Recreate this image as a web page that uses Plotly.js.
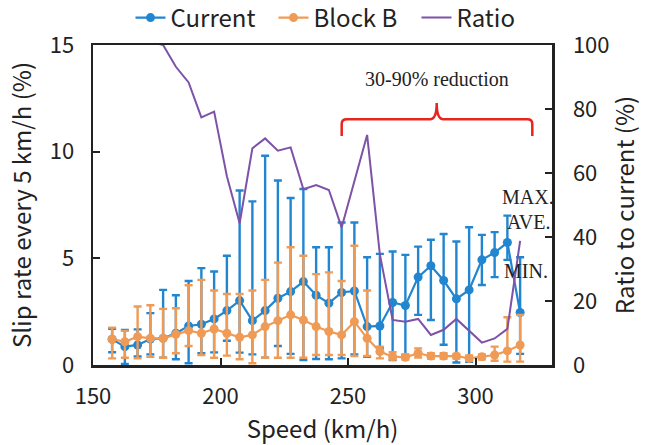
<!DOCTYPE html>
<html>
<head>
<meta charset="utf-8">
<script src="https://cdn.plot.ly/plotly-3.0.1.min.js"></script>
<style>html,body{margin:0;padding:0;background:#fff;}#chart{width:645px;height:445px;}</style>
</head>
<body>
<div id="chart"></div>
<script>
// Speed categories (km/h)
const speed = [157.5,162.5,167.5,172.5,177.5,182.5,187.5,192.5,197.5,202.5,207.5,212.5,217.5,222.5,227.5,232.5,237.5,242.5,247.5,252.5,257.5,262.5,267.5,272.5,277.5,282.5,287.5,292.5,297.5,302.5,307.5,312.5,317.5];

// Current: average / max / min slip rate (%)
const currentAve = [1.20,0.86,0.94,1.22,1.25,1.49,1.83,1.91,2.16,2.55,3.02,2.08,2.55,3.13,3.44,3.91,3.27,2.90,3.40,3.47,1.80,1.83,2.93,2.79,4.12,4.65,3.96,3.10,3.52,4.93,5.27,5.74,2.46];
const currentMax = [1.70,1.64,1.67,2.43,3.52,3.27,3.94,4.54,4.38,5.12,8.18,7.67,9.81,8.65,7.83,8.25,5.52,5.52,6.68,6.68,5.05,5.21,5.32,5.16,5.55,5.87,6.14,5.79,6.46,6.10,6.23,7.00,5.05];
const currentMin = [0.60,0.05,0.40,0.50,0.34,0.27,0.08,0.55,0.59,1.14,0.58,0.50,0.34,0.89,0.52,0.23,0.28,0.27,0.31,0.50,0.39,0.80,0.23,0.47,2.35,2.11,0.95,0.12,0.15,3.75,4.12,4.93,0.52];

// Block B: average / max / min slip rate (%)
const blockAve = [1.22,1.09,1.33,1.25,1.25,1.44,1.61,1.49,1.69,1.49,1.30,1.41,1.80,2.08,2.35,2.11,1.80,1.57,1.41,2.03,1.25,0.63,0.39,0.36,0.55,0.42,0.42,0.42,0.31,0.39,0.47,0.66,0.94];
const blockMax = [1.75,1.60,2.74,2.80,2.63,2.66,3.74,3.99,3.49,3.33,3.33,3.49,3.99,4.80,5.52,5.12,4.26,4.34,3.94,5.59,3.49,0.86,0.60,0.50,0.78,0.55,0.55,0.50,0.45,0.50,0.86,2.24,2.35];
const blockMin = [0.31,0.34,0.31,0.39,0.34,0.55,0.89,0.47,0.34,0.44,0.27,0.08,0.34,0.34,0.34,0.34,0.47,0.47,0.47,0.42,0.42,0.31,0.25,0.25,0.35,0.30,0.30,0.30,0.20,0.25,0.20,0.16,0.16];

// Ratio of Block B to Current (%)
const ratio = [102,127,141,101,100,93.2,88.3,77.4,79.2,59,44.3,67.7,70.8,67,68,54.9,56.2,54.7,43,57.3,71.9,34.5,14.1,13.5,14.4,9.4,11,14.4,10.8,7.0,8.3,11.3,38.8];

const xTicks = [150,200,250,300];
const yTicks = [0,5,10,15];
const y2Ticks = [0,20,40,60,80,100];

const blue = '#2285d0', orange = '#ef9b56', purple = '#7d52a8';
const gothic = '"Noto Sans CJK JP", "Noto Sans", sans-serif';
const serif = '"Liberation Serif", "Times New Roman", serif';

const up = (hi, av) => hi.map((v,i)=>+(v-av[i]).toFixed(3));
const dn = (lo, av) => lo.map((v,i)=>+(av[i]-v).toFixed(3));

const traces = [
  {x: speed, y: currentAve, name: 'Current', type: 'scatter', mode: 'lines+markers',
   line: {color: blue, width: 2.2}, marker: {color: blue, size: 9},
   error_y: {type: 'data', symmetric: false, array: up(currentMax,currentAve), arrayminus: dn(currentMin,currentAve),
             color: blue, thickness: 2.4, width: 4}},
  {x: speed, y: blockAve, name: 'Block B', type: 'scatter', mode: 'lines+markers',
   line: {color: orange, width: 2.2}, marker: {color: orange, size: 9},
   error_y: {type: 'data', symmetric: false, array: up(blockMax,blockAve), arrayminus: dn(blockMin,blockAve),
             color: orange, thickness: 2.4, width: 4}},
  {x: speed, y: ratio, name: 'Ratio', type: 'scatter', mode: 'lines', yaxis: 'y2',
   line: {color: purple, width: 2}}
];

const X = px => (px - 93) / 459;
const Y = py => (365 - py) / 320;

const brace = `M ${X(341.7)} ${Y(136)} L ${X(341.7)} ${Y(124)} Q ${X(341.7)} ${Y(119.3)} ${X(346.7)} ${Y(119.3)} ` +
  `L ${X(430)} ${Y(119.3)} Q ${X(436.7)} ${Y(119.3)} ${X(436.7)} ${Y(103)} Q ${X(436.7)} ${Y(119.3)} ${X(443.4)} ${Y(119.3)} ` +
  `L ${X(527.3)} ${Y(119.3)} Q ${X(532.3)} ${Y(119.3)} ${X(532.3)} ${Y(124)} L ${X(532.3)} ${Y(136)}`;

const tickFont = {family: gothic, size: 22, color: '#222'};
const titleFont = {family: gothic, size: 24, color: '#222'};

const layout = {
  width: 645, height: 445,
  margin: {l: 93, r: 93, t: 45, b: 80, autoexpand: false},
  paper_bgcolor: '#fff', plot_bgcolor: '#fff',
  showlegend: true,
  legend: {orientation: 'h', x: X(345), xanchor: 'center', y: Y(18), yanchor: 'middle',
           font: {family: gothic, size: 24, color: '#222'}, itemwidth: 30,
           entrywidth: 98, entrywidthmode: 'pixels'},
  xaxis: {range: [150, 330], tickvals: xTicks, ticks: 'inside', ticklen: 7, tickwidth: 2, tickcolor: '#222',
          showline: true, linecolor: '#222', linewidth: 2.5, mirror: true, showgrid: false, zeroline: false,
          tickfont: tickFont, ticklabelstandoff: 10,
          title: {text: 'Speed (km/h)', font: titleFont, standoff: 6}},
  yaxis: {range: [0, 15], tickvals: yTicks, ticks: 'inside', ticklen: 7, tickwidth: 2, tickcolor: '#222',
          showline: true, linecolor: '#222', linewidth: 2.5, mirror: true, showgrid: false, zeroline: false,
          tickfont: tickFont, ticklabelstandoff: 12,
          title: {text: 'Slip rate every 5 km/h (%)', font: titleFont, standoff: 12}},
  yaxis2: {range: [0, 100], tickvals: y2Ticks, overlaying: 'y', side: 'right', ticks: 'inside', ticklen: 7, tickwidth: 2,
           tickcolor: '#222', showline: true, linecolor: '#222', linewidth: 2.5, showgrid: false, zeroline: false,
           tickfont: tickFont, ticklabelstandoff: 14,
           title: {text: 'Ratio to current (%)', font: titleFont, standoff: 9}},
  shapes: [{type: 'path', xref: 'paper', yref: 'paper', path: brace, line: {color: '#e8241e', width: 2.5}}],
  annotations: [
    {xref: 'paper', yref: 'paper', x: X(437), y: Y(79), text: '30-90% reduction', showarrow: false,
     font: {family: serif, size: 20, color: '#222'}, xanchor: 'center', yanchor: 'middle'},
    {xref: 'paper', yref: 'paper', x: X(500), y: Y(197), text: 'MAX.', showarrow: false,
     font: {family: serif, size: 20, color: '#222'}, xanchor: 'left', yanchor: 'middle'},
    {xref: 'paper', yref: 'paper', x: X(505), y: Y(222), text: 'AVE.', showarrow: false,
     font: {family: serif, size: 20, color: '#222'}, xanchor: 'left', yanchor: 'middle'},
    {xref: 'paper', yref: 'paper', x: X(502), y: Y(271), text: 'MIN.', showarrow: false,
     font: {family: serif, size: 20, color: '#222'}, xanchor: 'left', yanchor: 'middle'}
  ]
};

Plotly.newPlot('chart', traces, layout, {staticPlot: true, displayModeBar: false});
</script>
</body>
</html>
